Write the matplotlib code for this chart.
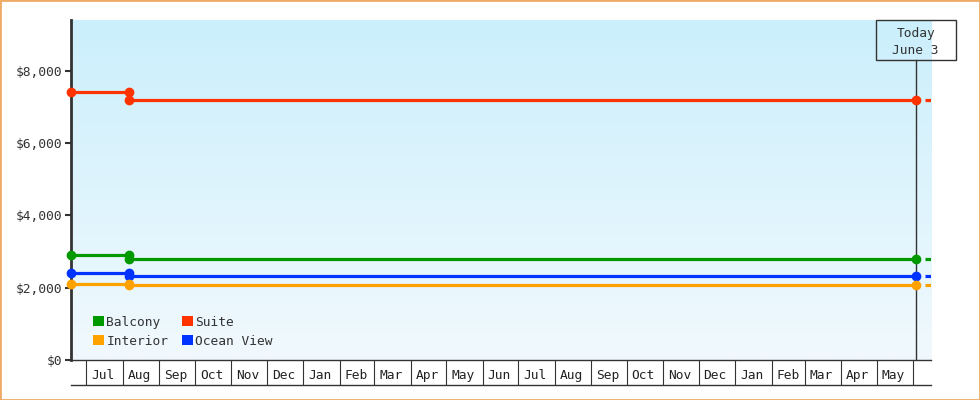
import matplotlib
matplotlib.use("Agg")
import matplotlib.pyplot as plt
import matplotlib.dates as mdates
import matplotlib.transforms as mtransforms
from matplotlib.colors import LinearSegmentedColormap
from matplotlib.patches import Patch, Rectangle
import numpy as np
import pandas as pd

# price history per cabin type
dates = pd.to_datetime(["2023-06-18", "2023-08-06", "2023-08-06", "2025-06-03"])
suite = [7400, 7400, 7200, 7200]
balcony = [2900, 2900, 2790, 2790]
ocean_view = [2400, 2400, 2330, 2330]
interior = [2100, 2100, 2080, 2080]

x_start = pd.Timestamp("2023-06-18")
x_end = pd.Timestamp("2025-06-16")
today = pd.Timestamp("2025-06-03")
today_label = "Today\nJune 3"

y_max = 9400
y_ticks = [0, 2000, 4000, 6000, 8000]
month_starts = pd.date_range("2023-07-01", "2025-06-01", freq="MS")
month_labels = [d.strftime("%b") for d in month_starts[:-1]]

colors = {"Suite": "#ff3300", "Balcony": "#009900",
          "Ocean View": "#0033ff", "Interior": "#ffa200"}
series = {"Suite": suite, "Balcony": balcony,
          "Ocean View": ocean_view, "Interior": interior}

font = "DejaVu Sans Mono"
fs = 9.3
dark = "#333333"

fig = plt.figure(figsize=(9.8, 4.0), dpi=100)
ax = fig.add_axes([71 / 980, 40 / 400, 860 / 980, 340 / 400])

# gradient background
cmap = LinearSegmentedColormap.from_list("bg", ["#f1f9fe", "#cbeffc"])
ax.imshow(np.linspace(0, 1, 256).reshape(-1, 1), cmap=cmap, origin="lower",
          extent=[0, 1, 0, 1], transform=ax.transAxes, aspect="auto", zorder=0)

for name, vals in series.items():
    ax.plot(dates, vals, color=colors[name], lw=2.3, marker="o", ms=6,
            solid_capstyle="butt", zorder=3, clip_on=False)
    # projection past today
    ext = [today + pd.Timedelta(days=8), x_end]
    ax.plot(ext, [vals[-1], vals[-1]], color=colors[name], lw=2.3,
            solid_capstyle="butt", zorder=3)

ax.set_xlim(x_start, x_end)
ax.set_ylim(0, y_max)

# y axis
ax.set_yticks(y_ticks)
ax.set_yticklabels(["${:,}".format(v) for v in y_ticks], fontfamily=font,
                   fontsize=fs, color=dark)
ax.tick_params(axis="y", length=4, width=1.5, color=dark, pad=2)

# x axis as month cells
mids = [d + pd.Timedelta(days=14) for d in month_starts[:-1]]
ax.set_xticks(mids)
ax.set_xticklabels(month_labels, fontfamily=font, fontsize=fs, color="#222222")
ax.set_xticks(month_starts, minor=True)
ax.tick_params(axis="x", which="major", length=0, pad=6.5)
ax.tick_params(axis="x", which="minor", length=18, width=0.8, color=dark,
               direction="out")

for s in ["top", "right"]:
    ax.spines[s].set_visible(False)
ax.spines["left"].set_linewidth(2)
ax.spines["left"].set_color(dark)
ax.spines["bottom"].set_linewidth(1)
ax.spines["bottom"].set_color(dark)
ax.plot([0, 1], [-25 / 340, -25 / 340], transform=ax.transAxes, color=dark,
        lw=1, clip_on=False)

# today marker
box_h = 40 / 340
ax.axvline(today, ymax=1 - box_h, color=dark, lw=1, zorder=2)
trans = mtransforms.blended_transform_factory(ax.transData, ax.transAxes)
days_per_px = (x_end - x_start).days / 860
box_w = pd.Timedelta(days=80 * days_per_px)
ax.add_patch(Rectangle((mdates.date2num(today - box_w / 2), 1 - box_h),
                       80 * days_per_px, box_h, transform=trans, fill=False,
                       ec=dark, lw=1, clip_on=False, zorder=4))
ax.text(today, 1 - box_h / 2 - 2 / 340, today_label, transform=trans,
        ha="center", va="center", fontfamily=font, fontsize=fs, color=dark,
        linespacing=1.35, zorder=4)

# legend
order = ["Balcony", "Interior", "Suite", "Ocean View"]
handles = [Patch(facecolor=colors[n], edgecolor="none", label=n) for n in order]
leg = ax.legend(handles=handles, ncol=2, loc="lower left",
                bbox_to_anchor=(0.02, 0.021), frameon=False,
                handlelength=0.8, handleheight=0.8, handletextpad=0.2,
                columnspacing=1.1, labelspacing=0.45, borderaxespad=0,
                prop={"family": font, "size": fs})
for t in leg.get_texts():
    t.set_color(dark)

# outer border
fig.patches.append(Rectangle((0, 0), 1, 1, transform=fig.transFigure,
                             fill=False, ec="#eeaa66", lw=2))

fig.savefig("out.png", dpi=100)
